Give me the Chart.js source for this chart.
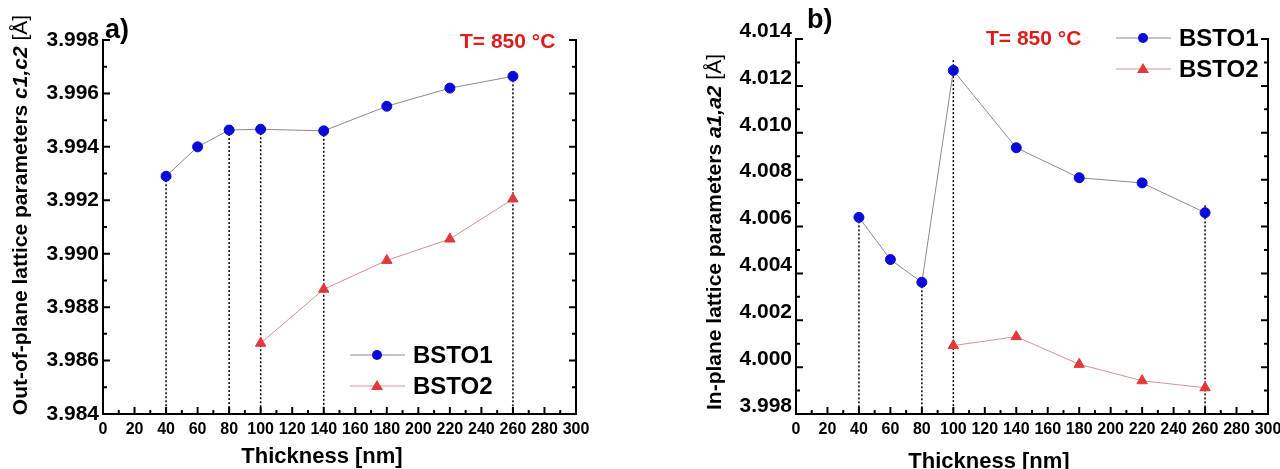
<!DOCTYPE html>
<html>
<head>
<meta charset="utf-8">
<script src="https://cdn.jsdelivr.net/npm/chart.js@4/dist/chart.umd.min.js"></script>
<style>
  html, body { margin: 0; padding: 0; background: #fff; }
  #wrap { position: relative; width: 1280px; height: 469px; }
  canvas { position: absolute; top: 0; }
  #chartA { left: 0; }
  #chartB { left: 640px; }
</style>
</head>
<body>
<div id="wrap">
  <canvas id="chartA" width="640" height="469"></canvas>
  <canvas id="chartB" width="640" height="469"></canvas>
</div>
<script>
// thickness in nm
const thickness1 = [40, 60, 80, 100, 140, 180, 220, 260];
const thickness2 = [100, 140, 180, 220, 260];

// a) out-of-plane lattice parameters
const c1 = [3.9929, 3.9940, 3.99463, 3.99466, 3.9946, 3.99552, 3.9962, 3.99664];
const c2 = [3.98665, 3.98867, 3.98975, 3.99055, 3.99205];

// b) in-plane lattice parameters
const a1 = [4.00639, 4.00459, 4.00362, 4.01266, 4.00936, 4.00808, 4.00786, 4.00659];
const a2 = [4.00092, 4.0013, 4.00012, 3.99942, 3.99912];

// dotted guide lines
const dropXA = [40, 80, 100, 140, 260];
const dropTopA = [3.9929, 3.99463, 3.99466, 3.9946, 3.99664];
const dropXB = [40, 80, 100, 260];
const dropTopB = [4.00639, 4.00362, 4.0131, 4.0069];

const FONT = "Arial, 'Liberation Sans', sans-serif";
const BLUE = "#0a0ad8";
const RED = "#e0393b";

function pts(xs, ys) {
    return xs.map((x, i) => ({ x: x, y: ys[i] }));
}

function dropSets(xs, tops, yMin) {
    return xs.map((x, i) => ({
        data: [{ x: x, y: tops[i] }, { x: x, y: yMin }],
        showLine: true,
        borderColor: "#000",
        borderWidth: 1.5,
        borderDash: [2, 2],
        pointRadius: 0,
        order: 10
    }));
}

function marker(ctx, style, x, y) {
    ctx.beginPath();
    if (style === "circle") {
        ctx.fillStyle = BLUE;
        ctx.arc(x, y, 5, 0, Math.PI * 2);
    } else {
        ctx.fillStyle = RED;
        ctx.moveTo(x, y - 6);
        ctx.lineTo(x + 6, y + 4);
        ctx.lineTo(x - 6, y + 4);
        ctx.closePath();
    }
    ctx.fill();
}

const decor = {
    id: "decor",
    afterDraw(chart, args, o) {
        const ctx = chart.ctx;
        const ca = chart.chartArea;
        const xs = chart.scales.x, ys = chart.scales.y;
        ctx.save();
        ctx.strokeStyle = "#000";
        ctx.lineWidth = 2;

        // right axis
        ctx.beginPath();
        ctx.moveTo(ca.right, ca.top - 1);
        ctx.lineTo(ca.right, ca.bottom);
        ctx.stroke();

        // inward ticks, major + minor
        let n = Math.round((xs.max - xs.min) / o.xMinor);
        for (let i = 0; i <= n; i++) {
            const px = xs.getPixelForValue(xs.min + i * o.xMinor);
            const len = i % 2 === 0 ? 7 : 4;
            ctx.beginPath();
            ctx.moveTo(px, ca.bottom);
            ctx.lineTo(px, ca.bottom - len);
            ctx.stroke();
        }
        n = Math.round((ys.max - ys.min) / o.yMinor);
        for (let i = 0; i <= n; i++) {
            const py = ys.getPixelForValue(ys.min + i * o.yMinor);
            const len = i % 2 === 0 ? 7 : 4;
            ctx.beginPath();
            ctx.moveTo(ca.left, py);
            ctx.lineTo(ca.left + len, py);
            ctx.moveTo(ca.right, py);
            ctx.lineTo(ca.right - len, py);
            ctx.stroke();
        }

        ctx.textBaseline = "middle";
        ctx.textAlign = "left";
        ctx.fillStyle = "#000";

        // panel letter
        ctx.font = "bold 27px " + FONT;
        ctx.fillText(o.panel, o.panelPos[0], o.panelPos[1]);

        // temperature
        ctx.fillStyle = "#dd1c1c";
        ctx.font = "bold 21px " + FONT;
        ctx.fillText("T= 850 °C", o.tPos[0], o.tPos[1]);

        // legend
        const lg = o.legend;
        const items = [
            { name: "BSTO1", line: "#8a8a8a", style: "circle" },
            { name: "BSTO2", line: "#d99090", style: "triangle" }
        ];
        items.forEach((it, i) => {
            const y = lg.y + i * lg.gap;
            ctx.strokeStyle = it.line;
            ctx.lineWidth = 1;
            ctx.beginPath();
            ctx.moveTo(lg.x, y);
            ctx.lineTo(lg.x + 55, y);
            ctx.stroke();
            marker(ctx, it.style, lg.x + 27, y);
            ctx.fillStyle = "#000";
            ctx.font = "bold 24px " + FONT;
            ctx.fillText(it.name, lg.x + 63, y + 1);
        });

        // x title
        ctx.fillStyle = "#000";
        ctx.textAlign = "center";
        ctx.font = "bold 22px " + FONT;
        ctx.fillText("Thickness [nm]", o.xTitle[0], o.xTitle[1]);

        // y title with italic part
        const segs = o.yTitle.segs;
        const sz = o.yTitle.size;
        const fonts = {
            b: "bold " + sz + "px " + FONT,
            i: "italic bold " + sz + "px " + FONT,
            r: sz + "px " + FONT
        };
        let total = 0;
        segs.forEach(s => { ctx.font = fonts[s.f]; total += ctx.measureText(s.t).width; });
        ctx.translate(o.yTitle.x, o.yTitle.y);
        ctx.rotate(-Math.PI / 2);
        ctx.textAlign = "left";
        let cx = -total / 2;
        segs.forEach(s => {
            ctx.font = fonts[s.f];
            ctx.fillText(s.t, cx, 0);
            cx += ctx.measureText(s.t).width;
        });
        ctx.restore();
    }
};

function makeChart(id, set1, set2, drops, ySpec, box, deco) {
    const ctx = document.getElementById(id).getContext("2d");
    return new Chart(ctx, {
        type: "scatter",
        data: {
            datasets: [
                {
                    data: set1,
                    showLine: true,
                    borderColor: "#8a8a8a",
                    borderWidth: 1,
                    pointStyle: "circle",
                    pointRadius: 5,
                    pointBackgroundColor: BLUE,
                    pointBorderColor: BLUE,
                    order: 1
                },
                {
                    data: set2,
                    showLine: true,
                    borderColor: "#d99090",
                    borderWidth: 1,
                    pointStyle: "triangle",
                    pointRadius: 6,
                    pointBackgroundColor: RED,
                    pointBorderColor: RED,
                    order: 2
                }
            ].concat(drops)
        },
        options: {
            responsive: false,
            animation: false,
            layout: { padding: { left: 0, right: box.right, top: box.top, bottom: 0 } },
            plugins: { legend: { display: false }, tooltip: { enabled: false }, decor: deco },
            scales: {
                x: {
                    type: "linear",
                    min: 0, max: 300,
                    grid: { display: false, drawTicks: false },
                    border: { display: true, color: "#000", width: 2 },
                    ticks: {
                        stepSize: 20, padding: 6, color: "#000", maxRotation: 0,
                        font: { family: FONT, size: 16, weight: "bold" }
                    },
                    afterFit(s) { s.height = 55; s.paddingLeft = 0; s.paddingRight = 0; }
                },
                y: {
                    min: ySpec.min, max: ySpec.max,
                    grid: { display: false, drawTicks: false },
                    border: { display: true, color: "#000", width: 2 },
                    ticks: {
                        stepSize: 0.002, padding: 4, color: "#000",
                        labelOffset: ySpec.labelOffset,
                        font: { family: FONT, size: 21, weight: "bold" },
                        callback: v => v.toFixed(3)
                    },
                    afterFit(s) { s.width = box.left; s.paddingTop = 0; s.paddingBottom = 0; }
                }
            }
        },
        plugins: [decor]
    });
}

makeChart("chartA",
    pts(thickness1, c1), pts(thickness2, c2),
    dropSets(dropXA, dropTopA, 3.984),
    { min: 3.984, max: 3.998, labelOffset: 0 },
    { left: 103, right: 64, top: 40 },
    {
        xMinor: 10, yMinor: 0.001,
        panel: "a)", panelPos: [105, 31],
        tPos: [460, 42],
        legend: { x: 350, y: 355, gap: 31 },
        xTitle: [322, 457],
        yTitle: {
            x: 21, y: 215, size: 21,
            segs: [
                { t: "Out-of-plane lattice parameters ", f: "b" },
                { t: "c1,c2", f: "i" },
                { t: " [Å]", f: "r" }
            ]
        }
    });

makeChart("chartB",
    pts(thickness1, a1), pts(thickness2, a2),
    dropSets(dropXB, dropTopB, 3.998),
    { min: 3.998, max: 4.014, labelOffset: -8 },
    { left: 156, right: 12, top: 39 },
    {
        xMinor: 10, yMinor: 0.001,
        panel: "b)", panelPos: [167, 21],
        tPos: [346, 39],
        legend: { x: 476, y: 38, gap: 31 },
        xTitle: [349, 462],
        yTitle: {
            x: 75, y: 232, size: 21,
            segs: [
                { t: "In-plane lattice parameters ", f: "b" },
                { t: "a1,a2", f: "i" },
                { t: " [Å]", f: "r" }
            ]
        }
    });
</script>
</body>
</html>
